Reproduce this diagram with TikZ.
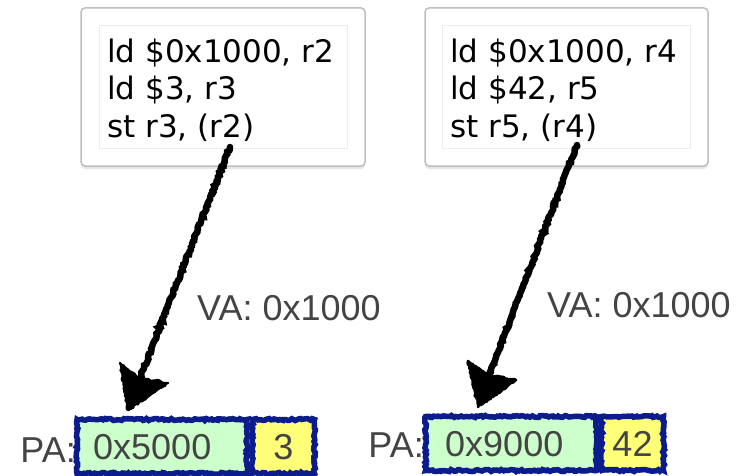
\documentclass[tikz,border=0pt]{standalone}
\usepackage{fontspec}
\setmainfont{DejaVu Sans}
\newfontfamily\helv{Liberation Sans}
\usetikzlibrary{decorations.pathmorphing,shadows}
\definecolor{navy}{RGB}{12,28,140}
\definecolor{pagreen}{RGB}{204,255,204}
\definecolor{payellow}{RGB}{255,255,120}
\definecolor{txtgray}{RGB}{68,68,68}
\tikzset{
  outerbox/.style={draw=black!25, line width=1.5pt, rounded corners=4pt, fill=white,
    drop shadow={shadow xshift=0pt, shadow yshift=-3pt, opacity=0.2}},
  innerbox/.style={draw=black!7, line width=0.8pt, fill=white},
  codetxt/.style={font=\fontsize{31}{37}\selectfont, text=black, inner sep=0pt, anchor=base west},
  labtxt/.style={font=\helv\fontsize{36}{40}\selectfont, text=txtgray, inner sep=0pt},
  rough/.style={decoration={random steps, segment length=2pt, amplitude=1pt}, decorate},
  cell/.style={draw=navy, line width=5.5pt, rough, inner sep=0pt,
    drop shadow={shadow xshift=0pt, shadow yshift=-3pt, opacity=0.3}},
  crayon/.style={draw=black, line width=6.5pt, line cap=round, rough},
  crayonhead/.style={fill=black, draw=black, line width=2.5pt, line join=round, rough},
}
\begin{document}
\begin{tikzpicture}[x=1pt,y=-1pt]
\useasboundingbox (0,0) rectangle (741,476);
% code boxes
\node[outerbox, minimum width=284pt, minimum height=158pt] (box1) at (223,87) {};
\node[innerbox, minimum width=248pt, minimum height=123pt] (in1) at (223,86.5) {};
\node[outerbox, minimum width=283pt, minimum height=158pt] (box2) at (566.5,87) {};
\node[innerbox, minimum width=248pt, minimum height=123pt] (in2) at (566,86.5) {};
\node[codetxt] (l11) at (107,63) {ld \$0x1000, r2};
\node[codetxt] (l12) at (107,100) {ld \$3, r3};
\node[codetxt] (l13) at (107,137) {st r3, (r2)};
\node[codetxt] (l21) at (450,63) {ld \$0x1000, r4};
\node[codetxt] (l22) at (450,100) {ld \$42, r5};
\node[codetxt] (l23) at (450,137) {st r5, (r4)};
% VA labels
\node[labtxt, anchor=base west] (va1) at (197,320) {VA: 0x1000};
\node[labtxt, anchor=base west] (va2) at (547,317) {VA: 0x1000};
% PA cells
\node[cell, fill=pagreen, minimum width=170pt, minimum height=54pt] (g1) at (162,446.5) {};
\node[cell, fill=payellow, minimum width=62pt, minimum height=54pt] (y1) at (283.5,446.5) {};
\node[cell, fill=pagreen, minimum width=171pt, minimum height=54pt] (g2) at (511,443.5) {};
\node[cell, fill=payellow, minimum width=62pt, minimum height=54pt] (y2) at (632.5,443.5) {};
\node[labtxt, anchor=base west] (v1) at (93,459) {0x5000};
\node[labtxt, anchor=base] (w1) at (283.5,459) {3};
\node[labtxt, anchor=base west] (v2) at (445,456) {0x9000};
\node[labtxt, anchor=base] (w2) at (632.5,456) {42};
\node[labtxt, anchor=base east] (pa1) at (76,462) {PA:};
\node[labtxt, anchor=base east] (pa2) at (424,457) {PA:};
% arrows
\coordinate (s1) at (230,147);
\coordinate (e1) at (128,410);
\coordinate (n1) at (140,378);
\coordinate (s2) at (577,145);
\coordinate (e2) at (478,407);
\coordinate (n2) at (489,375);
\draw[crayon] (s1) -- (n1);
\draw[crayonhead] (e1) -- (120,363) -- (n1) -- (168,383) -- cycle;
\draw[crayon] (s2) -- (n2);
\draw[crayonhead] (e2) -- (468,361) -- (n2) -- (516,380) -- cycle;
\end{tikzpicture}
\end{document}
